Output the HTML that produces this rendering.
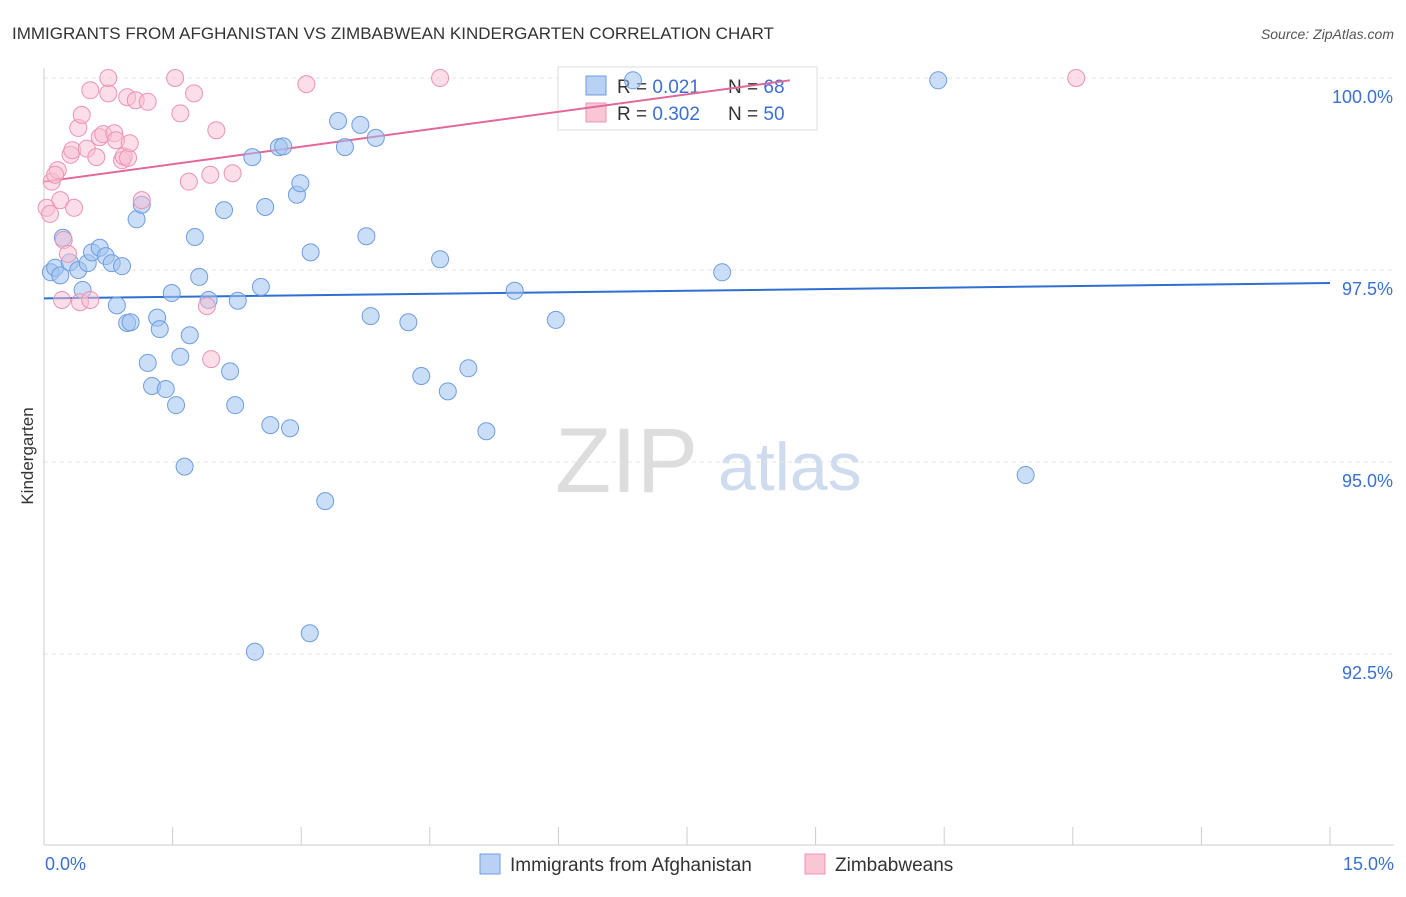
<!DOCTYPE html>
<html><head><meta charset="utf-8">
<style>
body{margin:0;background:#fff;font-family:"Liberation Sans",sans-serif;}
svg text{font-family:"Liberation Sans",sans-serif;}
</style></head>
<body>
<svg id="chart" width="1406" height="892">
<text x="12" y="39" font-size="17" fill="#333">IMMIGRANTS FROM AFGHANISTAN VS ZIMBABWEAN KINDERGARTEN CORRELATION CHART</text>
<text x="1394" y="39" font-size="14" fill="#555" font-style="italic" text-anchor="end">Source: ZipAtlas.com</text>
<text x="555" y="492" font-size="92" fill="#ddd" font-family="Liberation Serif">ZIP</text>
<text x="718" y="490" font-size="68" fill="#cfdcef">atlas</text>
<text x="33" y="456" font-size="17" fill="#333" text-anchor="middle" transform="rotate(-90 33 456)">Kindergarten</text>
<g id="grid"></g><g id="axes"></g>
<g>
<rect x="558" y="67" width="259" height="63" fill="#fff" stroke="#ddd"/>
<rect x="586" y="76" width="20" height="19" fill="#b9d1f5" stroke="#6f9de0"/>
<rect x="586" y="103" width="20" height="19" fill="#f9c6d6" stroke="#ec93b0"/>
<text x="617" y="93" font-size="19" fill="#333">R = <tspan fill="#3b6fd1">0.021</tspan><tspan x="728">N = </tspan><tspan fill="#3b6fd1">68</tspan></text>
<text x="617" y="120" font-size="19" fill="#333">R = <tspan fill="#3b6fd1">0.302</tspan><tspan x="728">N = </tspan><tspan fill="#3b6fd1">50</tspan></text>
</g>
<g id="lines"></g><g id="pts"></g>
<g>
<rect x="480" y="854" width="20" height="20" fill="#b9d1f5" stroke="#6f9de0"/>
<text x="510" y="871" font-size="19" fill="#333">Immigrants from Afghanistan</text>
<rect x="805" y="854" width="20" height="20" fill="#f9c6d6" stroke="#ec93b0"/>
<text x="835" y="871" font-size="19" fill="#333">Zimbabweans</text>
</g>
</svg>
<script>
const yTicks=[100,97.5,95,92.5];
const yTickLabels=["100.0%","97.5%","95.0%","92.5%"];
const xEndLabels=["0.0%","15.0%"];
const blueX=[0.08,0.13,0.19,0.22,0.30,0.40,0.45,0.51,0.56,0.65,0.72,0.79,0.91,0.85,0.97,1.01,1.08,1.14,1.21,1.26,1.32,1.35,1.42,1.49,1.54,1.59,1.64,1.70,1.76,1.81,1.92,2.10,2.17,2.23,2.26,2.43,2.46,2.53,2.58,2.64,2.74,2.79,2.87,2.95,2.99,3.11,3.10,3.28,3.43,3.51,3.69,3.76,3.81,3.87,4.25,4.40,4.62,4.71,4.95,5.16,5.49,5.97,6.87,7.91,10.43,11.45];
const blueY=[97.47,97.53,97.43,97.92,97.60,97.50,97.24,97.59,97.73,97.79,97.68,97.59,97.55,97.04,96.81,96.82,98.16,98.35,96.29,95.99,96.88,96.73,95.95,97.20,95.74,96.37,94.94,96.65,97.93,97.41,97.11,98.28,96.18,95.74,97.10,98.97,92.53,97.28,98.32,95.48,99.10,99.11,95.44,98.48,98.63,97.73,92.77,94.49,99.44,99.10,99.39,97.94,96.90,99.22,96.82,96.12,97.64,95.92,96.22,95.40,97.23,96.85,99.97,97.47,99.97,94.83];
const pinkX=[0.03,0.07,0.09,0.16,0.19,0.13,0.23,0.21,0.28,0.31,0.35,0.33,0.40,0.42,0.44,0.50,0.54,0.54,0.61,0.65,0.69,0.75,0.75,0.82,0.84,0.91,0.93,0.97,0.98,1.00,1.07,1.14,1.21,1.53,1.59,1.69,1.75,1.90,1.94,1.95,2.01,2.20,3.06,4.62,12.04];
const pinkY=[98.31,98.23,98.65,98.80,98.41,98.74,97.89,97.11,97.71,99.00,98.31,99.06,99.35,97.08,99.52,99.08,97.11,99.84,98.97,99.23,99.27,99.80,100.0,99.28,99.19,98.93,98.98,99.75,98.96,99.15,99.71,98.41,99.69,100.0,99.54,98.65,99.80,97.03,98.74,96.34,99.32,98.76,99.92,100.0,100.0];
const blueTrend=[97.13,97.33];
const pinkTrend=[98.65,99.97];
const pinkTrendEndX=8.7;
const X0=44,X1=1330;
const xs=v=>X0+(v/15)*(X1-X0);
const ys=v=>78+(100-v)/2.5*192;
const NS="http://www.w3.org/2000/svg";
function mk(tag,attrs,parent){const e=document.createElementNS(NS,tag);for(const k in attrs)e.setAttribute(k,attrs[k]);document.getElementById(parent).appendChild(e);return e;}
yTicks.forEach((t,i)=>{
  const g=mk('line',{x1:X0,x2:1394,y1:ys(t),y2:ys(t),stroke:'#e3e3e3','stroke-dasharray':'4 4'},'grid');
  
  
  const l=mk('text',{x:1393,y:ys(t)+25,'font-size':18,fill:'#3b6fd1','text-anchor':'end'},'grid');
  l.textContent=yTickLabels[i];
  
  
});
const ax=mk('line',{x1:X0,x2:X0,y1:68,y2:845,stroke:'#ccc'},'axes');


const bx=mk('line',{x1:X0,x2:1394,y1:845,y2:845,stroke:'#ccc'},'axes');


for(let i=0;i<=10;i++){
  const t=mk('line',{x1:xs(i*1.5),x2:xs(i*1.5),y1:827,y2:845,stroke:'#ccc'},'axes');
  
  
}
const xl0=mk('text',{x:45,y:870,'font-size':18,fill:'#3b6fd1'},'axes');xl0.textContent=xEndLabels[0];


const xl1=mk('text',{x:1394,y:870,'font-size':18,fill:'#3b6fd1','text-anchor':'end'},'axes');xl1.textContent=xEndLabels[1];


blueX.forEach((v,i)=>{
  const c=mk('circle',{cx:xs(v),cy:ys(blueY[i]),r:8.5,fill:'rgba(160,195,240,0.55)',stroke:'#6f9de0','stroke-width':1},'pts');
  
  
});
pinkX.forEach((v,i)=>{
  const c=mk('circle',{cx:xs(v),cy:ys(pinkY[i]),r:8.5,fill:'rgba(249,190,210,0.5)',stroke:'#ec93b0','stroke-width':1},'pts');
  
  
});
const bl=mk('line',{x1:xs(0),y1:ys(blueTrend[0]),x2:xs(15),y2:ys(blueTrend[1]),stroke:'#2f6fd1','stroke-width':2},'lines');


const pl=mk('line',{x1:xs(0),y1:ys(pinkTrend[0]),x2:xs(pinkTrendEndX),y2:ys(pinkTrend[1]),stroke:'#e2689a','stroke-width':2},'lines');


</script>
</body></html>
